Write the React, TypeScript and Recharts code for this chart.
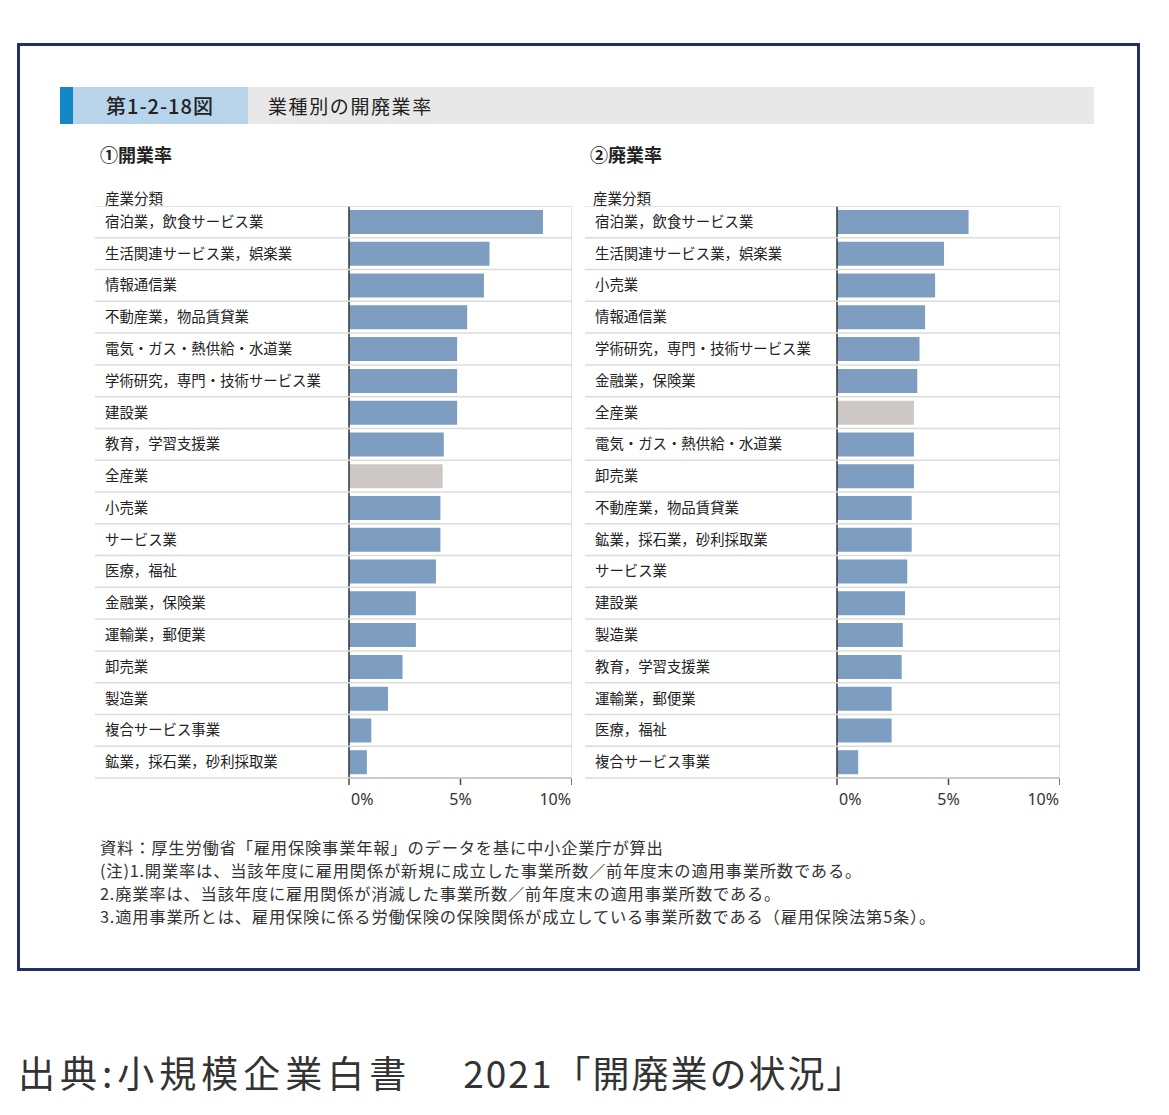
import { BarChart, Bar, XAxis, YAxis, Cell, ReferenceLine } from "recharts"

const openCategories = [
  "宿泊業，飲食サービス業",
  "生活関連サービス業，娯楽業",
  "情報通信業",
  "不動産業，物品賃貸業",
  "電気・ガス・熱供給・水道業",
  "学術研究，専門・技術サービス業",
  "建設業",
  "教育，学習支援業",
  "全産業",
  "小売業",
  "サービス業",
  "医療，福祉",
  "金融業，保険業",
  "運輸業，郵便業",
  "卸売業",
  "製造業",
  "複合サービス事業",
  "鉱業，採石業，砂利採取業",
]
const openRates = [8.7, 6.3, 6.05, 5.3, 4.85, 4.85, 4.85, 4.25, 4.2, 4.1, 4.1, 3.9, 3.0, 3.0, 2.4, 1.75, 1.0, 0.8]

const closeCategories = [
  "宿泊業，飲食サービス業",
  "生活関連サービス業，娯楽業",
  "小売業",
  "情報通信業",
  "学術研究，専門・技術サービス業",
  "金融業，保険業",
  "全産業",
  "電気・ガス・熱供給・水道業",
  "卸売業",
  "不動産業，物品賃貸業",
  "鉱業，採石業，砂利採取業",
  "サービス業",
  "建設業",
  "製造業",
  "教育，学習支援業",
  "運輸業，郵便業",
  "医療，福祉",
  "複合サービス事業",
]
const closeRates = [5.9, 4.8, 4.4, 3.95, 3.7, 3.6, 3.45, 3.45, 3.45, 3.35, 3.35, 3.15, 3.05, 2.95, 2.9, 2.45, 2.45, 0.95]

const xTicks = [0, 5, 10]
const TOTAL = "全産業"

const FONT = '"Noto Sans CJK JP", "Noto Sans", sans-serif'
const PLOT_H = 572
const AXIS_H = 40

function RateChart({ categories, rates, axisWidth }: { categories: string[]; rates: number[]; axisWidth: number }) {
  const data = categories.map((name, i) => ({ name, rate: rates[i] }))
  const plotW = 223
  const width = axisWidth + plotW
  const rowH = PLOT_H / categories.length

  const CategoryTick = (props: any) => {
    const { y, payload, index } = props
    return (
      <g>
        {index === 0 && (
          <line x1={0} x2={width} y1={y - rowH / 2} y2={y - rowH / 2} stroke="#dcdcdc" strokeWidth={1.5} />
        )}
        <line x1={0} x2={width} y1={y + rowH / 2} y2={y + rowH / 2} stroke="#dcdcdc" strokeWidth={1.5} />
        <text x={10} y={y} dy={5} fontSize={14.4} fill="#222" fontFamily={FONT} textAnchor="start">
          {payload.value}
        </text>
      </g>
    )
  }

  const PercentTick = (props: any) => {
    const { x, y, payload, index } = props
    const anchor = index === 0 ? "start" : index === xTicks.length - 1 ? "end" : "middle"
    const dx = index === 0 ? 2 : index === xTicks.length - 1 ? -1 : 0
    return (
      <text x={x + dx} y={y} dy={18} fontSize={16} fill="#333" fontFamily='"Noto Sans", sans-serif' textAnchor={anchor}>
        {payload.value}%
      </text>
    )
  }

  return (
    <BarChart
      width={width}
      height={PLOT_H + AXIS_H}
      data={data}
      layout="vertical"
      margin={{ top: 0, right: 0, bottom: 0, left: 0 }}
    >
      <XAxis
        type="number"
        domain={[0, 10]}
        ticks={xTicks}
        height={AXIS_H}
        axisLine={{ stroke: "#777", strokeWidth: 1.5 }}
        tickLine={{ stroke: "#444", strokeWidth: 1.5 }}
        tickSize={7}
        tick={PercentTick}
        interval={0}
      />
      <YAxis
        type="category"
        dataKey="name"
        width={axisWidth}
        axisLine={{ stroke: "#333", strokeWidth: 1.5 }}
        tickLine={false}
        tick={CategoryTick}
        interval={0}
      />
      <ReferenceLine x={10} stroke="#dcdcdc" strokeWidth={1.5} ifOverflow="extendDomain" />
      <Bar dataKey="rate" barSize={24} isAnimationActive={false}>
        {data.map((d) => (
          <Cell key={d.name} fill={d.name === TOTAL ? "#cdc8c6" : "#7d9dc1"} />
        ))}
      </Bar>
    </BarChart>
  )
}

const abs = (left: number, top: number, extra: any = {}) => ({ position: "absolute" as const, left, top, ...extra })

export default function App() {
  return (
    <div style={{ position: "absolute", left: 0, top: 0, width: 1169, height: 1115, background: "#fff", fontFamily: FONT, color: "#222" }}>
      <div style={abs(17, 43, { width: 1117, height: 922, border: "3px solid #22306a" })} />

      <div style={abs(60, 87, { width: 1034, height: 37, background: "#e8e8e8" })} />
      <div style={abs(60, 87, { width: 188, height: 37, background: "#b8d4eb" })} />
      <div style={abs(60, 87, { width: 13, height: 37, background: "#1287c6" })} />
      <div style={abs(106, 87, { lineHeight: "37px", fontSize: 20, fontWeight: 500, letterSpacing: 1 })}>第1-2-18図</div>
      <div style={abs(268, 87, { lineHeight: "37px", fontSize: 19, letterSpacing: 1.6 })}>業種別の開廃業率</div>

      <div style={abs(100, 142, { lineHeight: "24px", fontSize: 18, fontWeight: 700 })}>①開業率</div>
      <div style={abs(590, 142, { lineHeight: "24px", fontSize: 18, fontWeight: 700 })}>②廃業率</div>
      <div style={abs(105, 188, { lineHeight: "20px", fontSize: 14.5 })}>産業分類</div>
      <div style={abs(593, 188, { lineHeight: "20px", fontSize: 14.5 })}>産業分類</div>

      <div style={abs(95, 206)}>
        <RateChart categories={openCategories} rates={openRates} axisWidth={254} />
      </div>
      <div style={abs(585, 206)}>
        <RateChart categories={closeCategories} rates={closeRates} axisWidth={252} />
      </div>

      <div style={abs(100, 836, { fontSize: 16.3, lineHeight: "23px", letterSpacing: 0.8, color: "#333", whiteSpace: "nowrap" })}>
        <div>資料：厚生労働省「雇用保険事業年報」のデータを基に中小企業庁が算出</div>
        <div>(注)1.開業率は、当該年度に雇用関係が新規に成立した事業所数／前年度末の適用事業所数である。</div>
        <div>2.廃業率は、当該年度に雇用関係が消滅した事業所数／前年度末の適用事業所数である。</div>
        <div>3.適用事業所とは、雇用保険に係る労働保険の保険関係が成立している事業所数である（雇用保険法第5条）。</div>
      </div>

      <div style={abs(18, 1049, { fontSize: 37, lineHeight: "46px", color: "#333", whiteSpace: "pre" })}>
        <span style={{ letterSpacing: 5 }}>出典:小規模企業白書</span>
        <span style={{ marginLeft: 52, letterSpacing: 2 }}>2021「開廃業の状況」</span>
      </div>
    </div>
  )
}
